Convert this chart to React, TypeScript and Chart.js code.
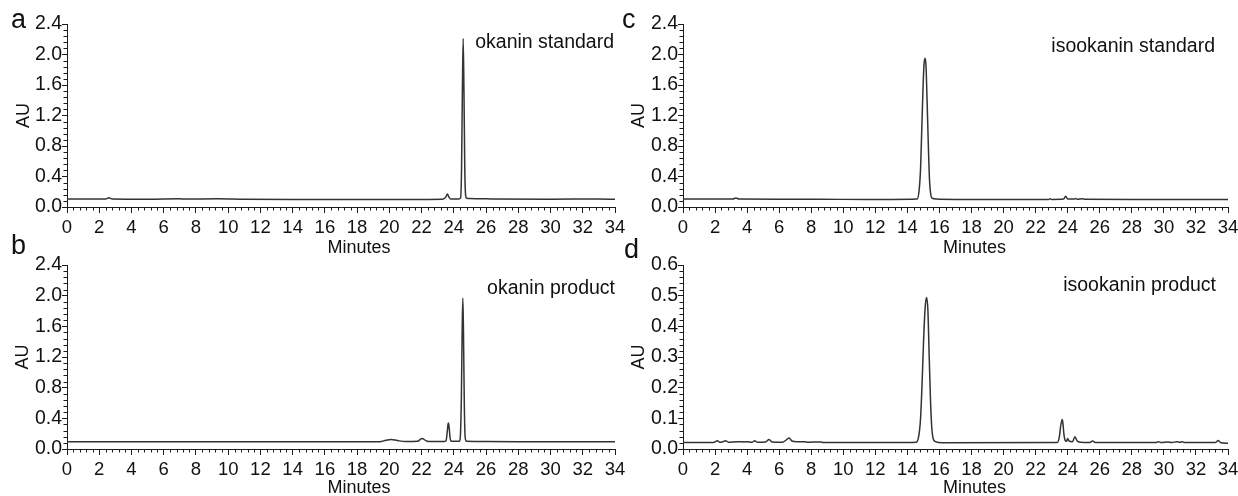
import React, { useEffect, useRef } from 'react';
import { Chart, registerables } from 'chart.js';

Chart.register(...registerables);

// ---------------- data ----------------
const xMin = 0;
const xMax = 34;
const xMajorStep = 2;
const xMinorStep = 0.4;

// panel a: okanin standard
const okaninStdTime = [0, 1.0, 2.4, 2.6, 2.8, 5.0, 7.0, 7.2, 9.4, 11.0, 14.0, 18.0, 22.0, 23.3, 23.5, 23.6, 23.7, 23.8, 24.3, 24.42, 24.48, 24.53, 24.58, 24.63, 24.68, 24.74, 24.8, 25.0, 26.0, 30.0, 33.0, 34.0];
const okaninStdAU = [0.105, 0.105, 0.105, 0.122, 0.106, 0.103, 0.108, 0.104, 0.108, 0.102, 0.1, 0.1, 0.1, 0.102, 0.13, 0.17, 0.13, 0.105, 0.106, 0.12, 0.5, 1.5, 2.21, 1.5, 0.5, 0.14, 0.115, 0.11, 0.107, 0.103, 0.104, 0.1];

// panel b: okanin product
const okaninProdTime = [0, 5, 10, 15, 19.4, 19.8, 20.1, 20.5, 21.0, 21.75, 22.02, 22.3, 22.6, 23.4, 23.52, 23.58, 23.64, 23.67, 23.72, 23.77, 23.84, 24.34, 24.4, 24.47, 24.52, 24.56, 24.6, 24.65, 24.7, 24.78, 26, 30, 34];
const okaninProdAU = [0.095, 0.095, 0.093, 0.093, 0.095, 0.115, 0.125, 0.11, 0.097, 0.1, 0.138, 0.105, 0.097, 0.098, 0.11, 0.2, 0.32, 0.338, 0.26, 0.14, 0.1, 0.1, 0.15, 0.7, 1.6, 1.97, 1.5, 0.6, 0.16, 0.1, 0.097, 0.095, 0.095];

// panel c: isookanin standard
const isookaninStdTime = [0, 3.1, 3.3, 3.5, 7.0, 10, 13, 14.6, 14.72, 14.82, 14.9, 14.98, 15.04, 15.1, 15.16, 15.22, 15.3, 15.38, 15.46, 15.56, 15.8, 17, 22.8, 22.9, 23.0, 23.75, 23.87, 24.0, 24.4, 24.5, 24.6, 24.9, 25.1, 28, 34];
const isookaninStdAU = [0.105, 0.104, 0.118, 0.104, 0.103, 0.1, 0.1, 0.105, 0.2, 0.5, 1.05, 1.6, 1.88, 1.95, 1.85, 1.45, 0.85, 0.35, 0.16, 0.115, 0.105, 0.1, 0.1, 0.108, 0.1, 0.105, 0.14, 0.105, 0.104, 0.11, 0.103, 0.108, 0.102, 0.1, 0.1];

// panel d: isookanin product
const isookaninProdTime = [0, 1.9, 2.15, 2.3, 2.5, 2.66, 2.85, 3.2, 3.6, 3.8, 4.0, 4.3, 4.47, 4.65, 5.15, 5.37, 5.55, 6.2, 6.45, 6.62, 6.8, 7.1, 7.6, 7.8, 8.6, 8.75, 10, 14, 14.55, 14.7, 14.82, 14.92, 15.02, 15.12, 15.2, 15.28, 15.36, 15.44, 15.52, 15.6, 15.75, 16.2, 23.35, 23.48, 23.56, 23.62, 23.66, 23.7, 23.76, 23.84, 23.92, 24.0, 24.08, 24.3, 24.45, 24.58, 24.8, 25.35, 25.55, 25.75, 29.5, 29.65, 29.85, 30.25, 30.5, 30.8, 31.0, 31.15, 31.3, 33.2, 33.4, 33.55, 34];
const isookaninProdAU = [0.021, 0.021, 0.027, 0.022, 0.024, 0.027, 0.022, 0.023, 0.024, 0.023, 0.024, 0.022, 0.027, 0.022, 0.023, 0.031, 0.023, 0.022, 0.03, 0.036, 0.026, 0.024, 0.024, 0.022, 0.023, 0.021, 0.021, 0.021, 0.022, 0.04, 0.1, 0.22, 0.37, 0.47, 0.494, 0.45, 0.3, 0.16, 0.07, 0.035, 0.024, 0.02, 0.021, 0.04, 0.075, 0.09, 0.096, 0.085, 0.05, 0.028, 0.025, 0.034, 0.026, 0.024, 0.04, 0.027, 0.022, 0.021, 0.026, 0.021, 0.021, 0.024, 0.021, 0.023, 0.021, 0.024, 0.022, 0.024, 0.021, 0.021, 0.028, 0.02, 0.019];

// y-axis ranges
const yMaxStd = 2.4;
const yStepStd = 0.4;
const yMinorStd = 0.08;
const yMaxIsoProd = 0.6;
const yStepIsoProd = 0.1;
const yMinorIsoProd = 0.02;

// texts
const panelLetters = ['a', 'b', 'c', 'd'];
const panelNotes = ['okanin standard', 'okanin product', 'isookanin standard', 'isookanin product'];
const xTitle = 'Minutes';
const yTitle = 'AU';

// ---------------- styles / layout ----------------
const FONT = '"Liberation Sans", Arial, Helvetica, sans-serif';
const TEXT = '#111111';
const AXIS = '#1c1c1c';
const TRACE = '#333333';

type Layout = {
  left: number; top: number; w: number; h: number;
  padTop: number; padRight: number; yWidth: number; xHeight: number;
  auPad: number;
  letterDx: number; letterDy: number;
  noteRight: number; noteDy: number;
  minutesDx: number; minutesDy: number;
};

const layouts: Layout[] = [
  { left: 0, top: 0, w: 640, h: 262, padTop: 24, padRight: 25, yWidth: 67, xHeight: 55, auPad: 13, letterDx: -56, letterDy: 4.3, noteRight: 1, noteDy: 24.3, minutesDx: 18, minutesDy: 41 },
  { left: 0, top: 228, w: 640, h: 268, padTop: 37, padRight: 25, yWidth: 67, xHeight: 47, auPad: 12, letterDx: -56, letterDy: -11, noteRight: 0, noteDy: 29.3, minutesDx: 18, minutesDy: 39 },
  { left: 620, top: 0, w: 630, h: 262, padTop: 24, padRight: 22, yWidth: 63, xHeight: 55, auPad: 8.5, letterDx: -61, letterDy: 4.3, noteRight: 13, noteDy: 27.7, minutesDx: 19, minutesDy: 41 },
  { left: 620, top: 228, w: 630, h: 268, padTop: 37, padRight: 22, yWidth: 63, xHeight: 47, auPad: 8.5, letterDx: -59, letterDy: -7, noteRight: 12, noteDy: 26, minutesDx: 19, minutesDy: 39 },
];

type PanelDef = {
  layout: Layout; letter: string; note: string;
  times: number[]; values: number[];
  yMax: number; yStep: number; yMinor: number;
};

const panels: PanelDef[] = [
  { layout: layouts[0], letter: panelLetters[0], note: panelNotes[0], times: okaninStdTime, values: okaninStdAU, yMax: yMaxStd, yStep: yStepStd, yMinor: yMinorStd },
  { layout: layouts[1], letter: panelLetters[1], note: panelNotes[1], times: okaninProdTime, values: okaninProdAU, yMax: yMaxStd, yStep: yStepStd, yMinor: yMinorStd },
  { layout: layouts[2], letter: panelLetters[2], note: panelNotes[2], times: isookaninStdTime, values: isookaninStdAU, yMax: yMaxStd, yStep: yStepStd, yMinor: yMinorStd },
  { layout: layouts[3], letter: panelLetters[3], note: panelNotes[3], times: isookaninProdTime, values: isookaninProdAU, yMax: yMaxIsoProd, yStep: yStepIsoProd, yMinor: yMinorIsoProd },
];

function isMultiple(v: number, step: number) {
  const r = v / step;
  return Math.abs(r - Math.round(r)) < 1e-6;
}

function decorPlugin(p: PanelDef) {
  const L = p.layout;
  return {
    id: 'decor' + p.letter,
    afterDraw(chart: any) {
      const { ctx, chartArea } = chart;
      const xs = chart.scales.x;
      const ys = chart.scales.y;
      ctx.save();
      // minor ticks
      ctx.strokeStyle = AXIS;
      ctx.lineWidth = 1;
      ctx.beginPath();
      const nx = Math.round((xMax - xMin) / xMinorStep);
      for (let k = 0; k <= nx; k++) {
        const v = xMin + k * xMinorStep;
        if (isMultiple(v, xMajorStep)) continue;
        const px = Math.round(xs.getPixelForValue(v)) + 0.5;
        const by = Math.round(chartArea.bottom);
        ctx.moveTo(px, by);
        ctx.lineTo(px, by + 3.5);
      }
      const ny = Math.round(p.yMax / p.yMinor);
      for (let k = 0; k <= ny; k++) {
        const v = k * p.yMinor;
        if (isMultiple(v, p.yStep)) continue;
        const py = Math.round(ys.getPixelForValue(v)) + 0.5;
        const lx = Math.round(chartArea.left);
        ctx.moveTo(lx, py);
        ctx.lineTo(lx - 3.5, py);
      }
      ctx.stroke();

      ctx.fillStyle = TEXT;
      // x title
      ctx.font = `18px ${FONT}`;
      ctx.textAlign = 'center';
      ctx.textBaseline = 'middle';
      ctx.fillText(xTitle, (chartArea.left + chartArea.right) / 2 + L.minutesDx, chartArea.bottom + L.minutesDy);
      // note
      ctx.font = `19.5px ${FONT}`;
      ctx.textAlign = 'right';
      ctx.textBaseline = 'alphabetic';
      ctx.fillText(p.note, chartArea.right - L.noteRight, chartArea.top + L.noteDy);
      // panel letter
      ctx.font = `27px ${FONT}`;
      ctx.textAlign = 'left';
      ctx.fillText(p.letter, chartArea.left + L.letterDx, chartArea.top + L.letterDy);
      ctx.restore();
    },
  };
}

function makeConfig(p: PanelDef): any {
  const L = p.layout;
  const data = p.times.map((t, i) => ({ x: t, y: p.values[i] }));
  return {
    type: 'line',
    data: {
      datasets: [
        {
          data,
          borderColor: TRACE,
          borderWidth: 1.5,
          pointRadius: 0,
          fill: false,
          cubicInterpolationMode: 'monotone',
        },
      ],
    },
    options: {
      animation: false,
      responsive: false,
      maintainAspectRatio: false,
      devicePixelRatio: 1,
      events: [],
      layout: { padding: { left: 0, top: L.padTop, right: L.padRight, bottom: 0 } },
      plugins: { legend: { display: false }, tooltip: { enabled: false }, title: { display: false } },
      scales: {
        x: {
          type: 'linear',
          min: xMin,
          max: xMax,
          afterFit: (s: any) => { s.height = L.xHeight; },
          ticks: {
            stepSize: xMajorStep,
            autoSkip: false,
            maxRotation: 0,
            minRotation: 0,
            padding: 4,
            color: TEXT,
            font: { family: FONT, size: 18.5 },
            callback: (v: any) => String(Math.round(Number(v))),
          },
          grid: { display: true, drawOnChartArea: false, drawTicks: true, tickLength: 6, tickColor: AXIS, tickWidth: 1 },
          border: { display: true, color: AXIS, width: 1 },
          title: { display: false },
        },
        y: {
          type: 'linear',
          min: 0,
          max: p.yMax,
          afterFit: (s: any) => { s.width = L.yWidth; },
          ticks: {
            stepSize: p.yStep,
            autoSkip: false,
            padding: 0,
            color: TEXT,
            font: { family: FONT, size: 19.5 },
            callback: (v: any) => Number(v).toFixed(1),
          },
          grid: { display: true, drawOnChartArea: false, drawTicks: true, tickLength: 5, tickColor: AXIS, tickWidth: 1 },
          border: { display: true, color: AXIS, width: 1 },
          title: {
            display: true,
            text: yTitle,
            color: TEXT,
            font: { family: FONT, size: 18 },
            padding: { top: L.auPad, bottom: 0 },
          },
        },
      },
    },
    plugins: [decorPlugin(p)],
  };
}

function Panel({ p }: { p: PanelDef }) {
  const ref = useRef<HTMLCanvasElement | null>(null);
  useEffect(() => {
    if (!ref.current) return;
    const chart = new Chart(ref.current, makeConfig(p));
    return () => chart.destroy();
  }, [p]);
  const L = p.layout;
  return (
    <canvas
      ref={ref}
      width={L.w}
      height={L.h}
      style={{ position: 'absolute', left: L.left, top: L.top, width: L.w, height: L.h }}
    />
  );
}

export default function App() {
  return (
    <div
      style={{
        position: 'fixed',
        left: 0,
        top: 0,
        width: 1238,
        height: 496,
        overflow: 'hidden',
        background: '#ffffff',
      }}
    >
      {panels.map((p) => (
        <Panel key={p.letter} p={p} />
      ))}
    </div>
  );
}
